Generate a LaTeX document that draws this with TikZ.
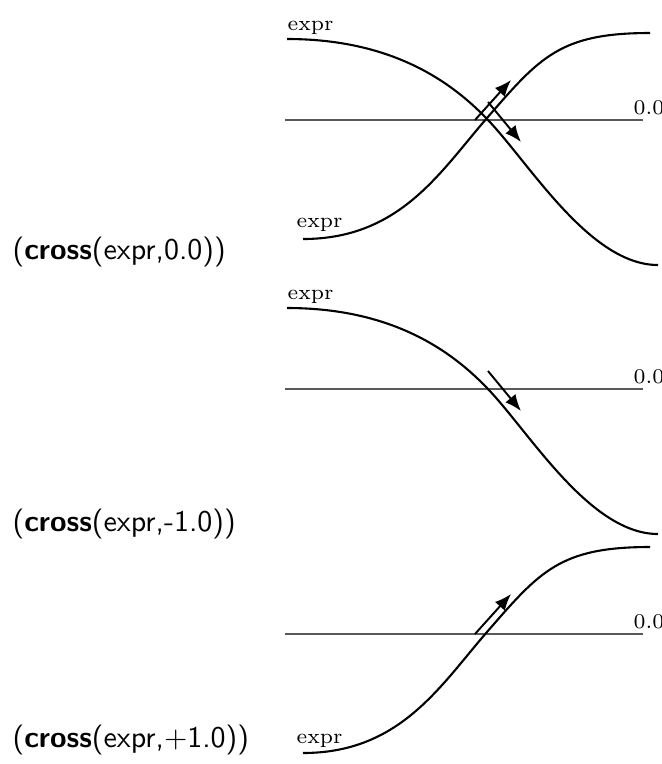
\documentclass[tikz,border=0pt]{standalone}
\usetikzlibrary{arrows.meta}

\begin{document}
\begin{tikzpicture}[
  x=0.3333pt, y=-0.3333pt,
  curve/.style={line width=0.7pt, black},
  zero/.style={line width=0.45pt, black!65},
  dir/.style={-{Latex[length=5.5pt,width=4.4pt]}, line width=0.65pt},
  lab/.style={font=\scriptsize, inner sep=0pt, anchor=base west},
  call/.style={font=\sffamily, inner sep=0pt, anchor=base west}
]
\useasboundingbox (0,0) rectangle (662,764);

% both directions
\begin{scope}[shift={(0,120)}]
\draw[zero] (285,0) -- (643,0);
\node[lab] (z1) at (633,-6) {0.0};
\draw[curve] (287,-81) .. controls (390,-81) and (450,-40) .. (488,0)
  .. controls (530,44) and (590,145) .. (658,145);
\draw[curve] (303,119) .. controls (400,119) and (440,52) .. (487,-2)
  .. controls (540,-63) and (560,-87) .. (650,-87);
\node[lab] (e1a) at (287,-90) {expr};
\node[lab] (e1b) at (296,107) {expr};
\draw[dir] (475,0) -- (511,-40);
\draw[dir] (488,-18) -- (521,22);
\end{scope}
\node[call] (c1) at (12,259) {(\textbf{cross}(expr,0.0))};

% falling only
\begin{scope}[shift={(0,389)}]
\draw[zero] (285,0) -- (643,0);
\node[lab] (z2) at (633,-6) {0.0};
\draw[curve] (287,-81) .. controls (390,-81) and (450,-40) .. (488,0)
  .. controls (530,44) and (590,145) .. (658,145);
\node[lab] (e2a) at (287,-90) {expr};
\draw[dir] (488,-18) -- (521,22);
\end{scope}
\node[call] (c2) at (12,531) {(\textbf{cross}(expr,-1.0))};

% rising only
\begin{scope}[shift={(0,634)}]
\draw[zero] (285,0) -- (643,0);
\node[lab] (z3) at (633,-6) {0.0};
\draw[curve] (303,119) .. controls (400,119) and (440,52) .. (487,-2)
  .. controls (540,-63) and (560,-87) .. (650,-87);
\node[lab] (e3b) at (296,109) {expr};
\draw[dir] (475,0) -- (511,-40);
\end{scope}
\node[call] (c3) at (12,747) {(\textbf{cross}(expr,$+$1.0))};
\end{tikzpicture}
\end{document}
